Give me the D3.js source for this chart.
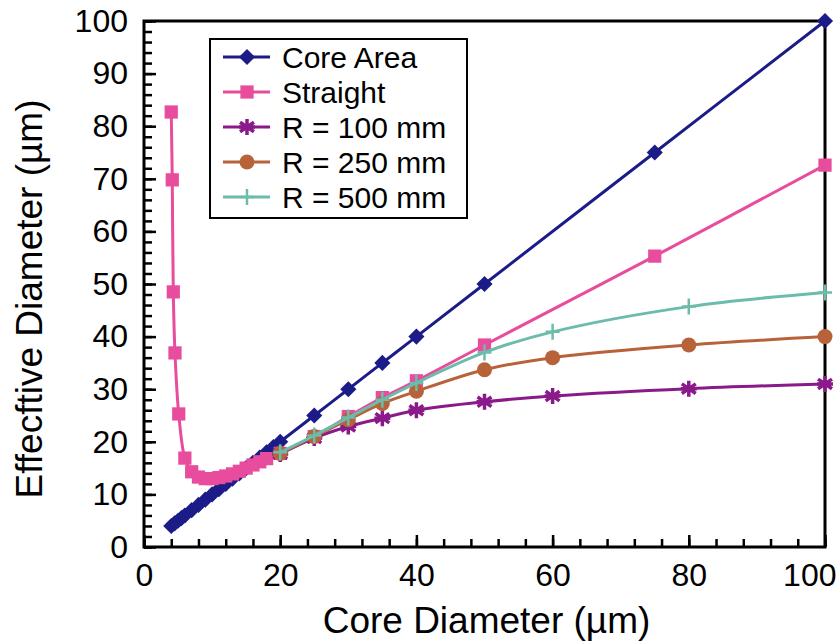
<!DOCTYPE html>
<html>
<head>
<meta charset="utf-8">
<script src="https://cdn.jsdelivr.net/npm/d3@7"></script>
<style>
  body { margin: 0; background: #fff; }
  svg text { font-family: "Liberation Sans", Arial, sans-serif; fill: #000; }
</style>
</head>
<body>
<svg id="chart" width="838" height="643"></svg>
<script>
// series data
var seriesNames = ["Core Area", "Straight", "R = 100 mm", "R = 250 mm", "R = 500 mm"];
var coreX = [4, 4.5, 5, 5.5, 6, 7, 8, 9, 10, 11, 12, 13, 14, 15, 16, 17, 18, 19, 20, 25, 30, 35, 40, 50, 75, 100];
var coreY = [4, 4.5, 5, 5.5, 6, 7, 8, 9, 10, 11, 12, 13, 14, 15, 16, 17, 18, 19, 20, 25, 30, 35, 40, 50, 75, 100];
var straightX = [4, 4.15, 4.3, 4.55, 5.1, 6, 7, 8, 9, 10, 11, 12, 13, 14, 15, 16, 17, 18, 20, 25, 30, 35, 40, 50, 75, 100];
var straightY = [82.7, 69.8, 48.5, 36.9, 25.3, 16.9, 14.3, 13.3, 13, 13, 13.2, 13.5, 13.9, 14.4, 15, 15.6, 16.2, 16.8, 17.8, 21, 24.8, 28.4, 31.6, 38.4, 55.3, 72.6];
var bentX = [20, 25, 30, 35, 40, 50, 60, 80, 100];
var r100Y = [17.7, 20.7, 22.9, 24.5, 26, 27.6, 28.7, 30.1, 31];
var r250Y = [17.8, 21, 24.2, 27.3, 29.6, 33.7, 36, 38.4, 40];
var r500Y = [18, 21.2, 24.6, 28, 31.2, 37, 40.9, 45.7, 48.4];
var xTicks = [0, 20, 40, 60, 80, 100];
var yTicks = [0, 10, 20, 30, 40, 50, 60, 70, 80, 90, 100];

var colors = ["#1c1c88", "#e84c9c", "#8a1a8a", "#b8623a", "#6cbcac"];
var markers = ["diamond", "square", "asterisk", "circle", "plus"];

var width = 838, height = 643;
var margin = {left: 144, right: 13, top: 21, bottom: 96};
var chartWidth = width - margin.left - margin.right;
var chartHeight = height - margin.top - margin.bottom;

var svg = d3.select("#chart");
var chartGroup = svg.append("g").attr("transform", "translate(" + margin.left + "," + margin.top + ")");

var xScale = d3.scaleLinear().domain([0, 100]).range([0, chartWidth]);
var yScale = d3.scaleLinear().domain([0, 100]).range([chartHeight, 0]);

// minor ticks, pointing inwards
chartGroup.append("g").attr("class", "minor")
    .call(d3.axisLeft(yScale).tickValues(d3.range(0, 101, 2)).tickSize(-8).tickFormat(""));
chartGroup.append("g").attr("class", "minor")
    .attr("transform", "translate(0," + chartHeight + ")")
    .call(d3.axisBottom(xScale).tickValues(d3.range(0, 101, 4)).tickSize(-8).tickFormat(""));

// major ticks + labels
var yAxis = d3.axisLeft(yScale).tickValues(yTicks).tickSize(-12).tickPadding(16);
var xAxis = d3.axisBottom(xScale).tickValues(xTicks).tickSize(-12).tickPadding(16);
chartGroup.append("g").attr("class", "major").call(yAxis);
var xg = chartGroup.append("g").attr("class", "major")
    .attr("transform", "translate(0," + chartHeight + ")").call(xAxis);

chartGroup.selectAll(".domain").remove();
chartGroup.selectAll(".tick line").attr("stroke", "#000").attr("stroke-width", 2.5);
chartGroup.selectAll(".major text").style("font-size", "32px");
// last label sits against the right edge, like the original
xg.selectAll(".tick text").filter(function(d) { return d == 100; })
    .attr("text-anchor", "end").attr("x", 11);

// frame
chartGroup.append("rect")
    .attr("width", chartWidth).attr("height", chartHeight)
    .attr("fill", "none").attr("stroke", "#000").attr("stroke-width", 3);

// axis titles
svg.append("text")
    .attr("x", margin.left + chartWidth / 2 + 2).attr("y", 633)
    .attr("text-anchor", "middle").style("font-size", "37px")
    .text("Core Diameter (µm)");
svg.append("text")
    .attr("transform", "translate(42," + (margin.top + chartHeight / 2 + 15) + ") rotate(-90)")
    .attr("text-anchor", "middle").style("font-size", "37px")
    .text("Effecftive Diameter (µm)");

// draw a marker at (0,0) inside g
function drawMarker(g, type, color) {
    if (type == "diamond") {
        g.append("path").attr("d", d3.symbol(d3.symbolSquare, 130)())
            .attr("transform", "rotate(45)").attr("fill", color);
    } else if (type == "square") {
        g.append("path").attr("d", d3.symbol(d3.symbolSquare, 175)()).attr("fill", color);
    } else if (type == "circle") {
        g.append("circle").attr("r", 7.5).attr("fill", color);
    } else if (type == "asterisk") {
        var s = 8;
        g.append("path")
            .attr("d", "M0," + (-s) + "V" + s + "M" + (-s * 0.87) + "," + (-s * 0.6) + "L" + (s * 0.87) + "," + (s * 0.6) +
                "M" + (-s * 0.87) + "," + (s * 0.6) + "L" + (s * 0.87) + "," + (-s * 0.6) + "M" + (-s) + ",0H" + s)
            .attr("stroke", color).attr("stroke-width", 3.5).attr("fill", "none");
    } else if (type == "plus") {
        g.append("path").attr("d", "M0,-8V8M-7,0H7")
            .attr("stroke", color).attr("stroke-width", 2.5).attr("fill", "none");
    }
}

var allSeries = [
    {xs: coreX, ys: coreY},
    {xs: straightX, ys: straightY},
    {xs: bentX, ys: r100Y},
    {xs: bentX, ys: r250Y},
    {xs: bentX, ys: r500Y}
];

var line = d3.line()
    .x(function(d) { return xScale(d[0]); })
    .y(function(d) { return yScale(d[1]); })
    .curve(d3.curveCatmullRom.alpha(0.5));

allSeries.forEach(function(s, i) {
    var pts = s.xs.map(function(x, j) { return [x, s.ys[j]]; });
    var g = chartGroup.append("g");
    g.append("path").datum(pts)
        .attr("d", line)
        .attr("fill", "none").attr("stroke", colors[i]).attr("stroke-width", 3);
    pts.forEach(function(p) {
        var m = g.append("g").attr("transform", "translate(" + xScale(p[0]) + "," + yScale(p[1]) + ")");
        drawMarker(m, markers[i], colors[i]);
    });
});

// legend
var legend = svg.append("g").attr("transform", "translate(210,39)");
legend.append("rect").attr("width", 257).attr("height", 179)
    .attr("fill", "#fff").attr("stroke", "#000").attr("stroke-width", 2);
seriesNames.forEach(function(name, i) {
    var row = legend.append("g").attr("transform", "translate(0," + (18 + i * 35) + ")");
    row.append("line").attr("x1", 13).attr("x2", 60)
        .attr("stroke", colors[i]).attr("stroke-width", 3);
    drawMarker(row.append("g").attr("transform", "translate(37,0)"), markers[i], colors[i]);
    row.append("text").attr("x", 72).attr("dy", "0.36em")
        .style("font-size", "30px").text(name);
});
</script>
</body>
</html>
